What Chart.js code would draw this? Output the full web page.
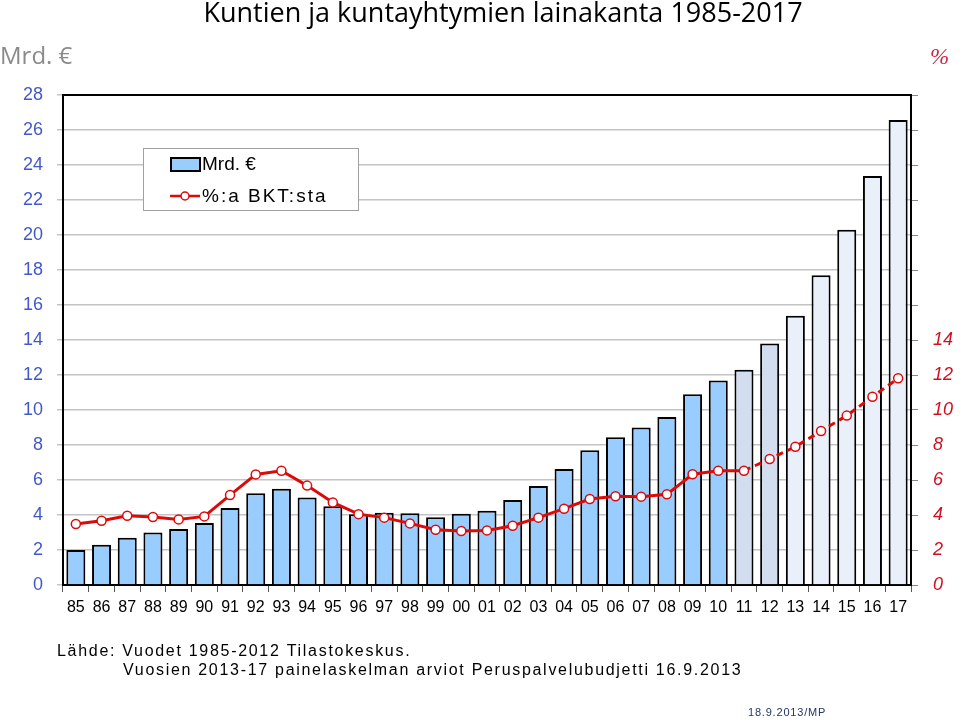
<!DOCTYPE html>
<html>
<head>
<meta charset="utf-8">
<script src="https://cdn.jsdelivr.net/npm/chart.js@4"></script>
<style>
  body { margin: 0; background: #fff; }
  #wrap { position: relative; width: 960px; height: 722px; }
</style>
</head>
<body>
<div id="wrap"><canvas id="chart"></canvas></div>
<script>
// vuodet (x-akseli)
var years = ['85', '86', '87', '88', '89', '90', '91', '92', '93', '94', '95', '96', '97', '98', '99',
    '00', '01', '02', '03', '04', '05', '06', '07', '08', '09', '10', '11', '12', '13', '14', '15', '16', '17'];
// lainakanta, Mrd. €
var debtBn = [2.0, 2.3, 2.7, 3.0, 3.2, 3.55, 4.4, 5.25, 5.5, 5.0, 4.5, 4.05, 4.13, 4.1, 3.87,
    4.07, 4.25, 4.86, 5.66, 6.63, 7.7, 8.45, 9.0, 9.6, 10.9, 11.68, 12.3, 13.8, 15.38, 17.7, 20.3, 23.37, 26.57];
// % BKT:sta
var gdpShare = [3.49, 3.67, 3.96, 3.89, 3.75, 3.92, 5.14, 6.32, 6.53, 5.68, 4.72, 4.05, 3.85, 3.52, 3.16,
    3.09, 3.12, 3.39, 3.85, 4.36, 4.91, 5.07, 5.05, 5.18, 6.33, 6.53, 6.53, 7.2, 7.9, 8.8, 9.68, 10.76, 11.81];
// toteutunut / ennakko / arvio
var dataStatus = ['a', 'a', 'a', 'a', 'a', 'a', 'a', 'a', 'a', 'a', 'a', 'a', 'a', 'a', 'a',
    'a', 'a', 'a', 'a', 'a', 'a', 'a', 'a', 'a', 'a', 'a', 'p', 'p', 'e', 'e', 'e', 'e', 'e'];
var leftTicks = [0, 2, 4, 6, 8, 10, 12, 14, 16, 18, 20, 22, 24, 26, 28];
var rightTicks = [0, 2, 4, 6, 8, 10, 12, 14];

var statusColor = { a: '#99ccff', p: '#d2deef', e: '#eaf0fa' };
var barColors = dataStatus.map(s => statusColor[s]);
var firstDashed = dataStatus.indexOf('p');

var LINE_RED = '#dd0a0a';

// kehys + tekstit
var decorPlugin = {
    id: 'decor',
    afterDatasetsDraw(chart) {
        const ctx = chart.ctx;
        const a = chart.chartArea;
        ctx.save();
        // yläreuna
        ctx.strokeStyle = '#000';
        ctx.lineWidth = 2;
        ctx.beginPath();
        ctx.moveTo(a.left, a.top);
        ctx.lineTo(a.right, a.top);
        ctx.stroke();

        // selite
        ctx.fillStyle = '#fff';
        ctx.fillRect(143, 148, 215, 62);
        ctx.strokeStyle = '#a0a0a0';
        ctx.lineWidth = 1;
        ctx.strokeRect(143.5, 148.5, 215, 62);

        const ds0 = chart.data.datasets[0];
        const ds1 = chart.data.datasets[1];
        ctx.fillStyle = statusColor.a;
        ctx.fillRect(171, 158, 29, 13);
        ctx.strokeStyle = '#000';
        ctx.lineWidth = 2;
        ctx.strokeRect(171, 158, 29, 13);

        ctx.strokeStyle = LINE_RED;
        ctx.lineWidth = 2.5;
        ctx.beginPath();
        ctx.moveTo(170, 196);
        ctx.lineTo(200, 196);
        ctx.stroke();
        ctx.beginPath();
        ctx.arc(185, 196, 4, 0, Math.PI * 2);
        ctx.fillStyle = '#fff';
        ctx.fill();
        ctx.lineWidth = 1.5;
        ctx.stroke();

        ctx.fillStyle = '#000';
        ctx.font = '19px "Liberation Sans"';
        ctx.textBaseline = 'middle';
        ctx.textAlign = 'left';
        ctx.fillText(ds0.label, 202, 165);
        ctx.letterSpacing = '2px';
        ctx.fillText(ds1.label, 202, 197);
        ctx.letterSpacing = '0px';

        // otsikko
        ctx.textAlign = 'center';
        ctx.font = '27px "Open Sans"';
        ctx.fillStyle = '#000';
        ctx.fillText('Kuntien ja kuntayhtymien lainakanta 1985-2017', 503, 14);

        ctx.textAlign = 'left';
        ctx.font = '24px "Open Sans"';
        ctx.fillStyle = '#8a8a8a';
        ctx.fillText('Mrd. €', 0, 57);
        ctx.font = 'italic 23px "Liberation Serif"';
        ctx.fillStyle = '#c8284a';
        ctx.fillText('%', 930, 58);

        // lähde
        ctx.font = '16px "Liberation Sans"';
        ctx.fillStyle = '#000';
        ctx.letterSpacing = '1.7px';
        ctx.fillText('Lähde: Vuodet 1985-2012 Tilastokeskus.', 57, 652);
        ctx.fillText('Vuosien 2013-17 painelaskelman arviot Peruspalvelubudjetti 16.9.2013', 123, 671);
        ctx.font = '11px "Liberation Sans"';
        ctx.fillStyle = '#1f3864';
        ctx.letterSpacing = '0.8px';
        ctx.fillText('18.9.2013/MP', 748, 713);
        ctx.letterSpacing = '0px';
        ctx.restore();
    }
};

var ctx = document.getElementById('chart').getContext('2d');
var myChart = new Chart(ctx, {
    data: {
        labels: years,
        datasets: [
            { // 0
                type: 'bar',
                label: 'Mrd. €',
                data: debtBn,
                yAxisID: 'y',
                backgroundColor: barColors,
                borderColor: '#000',
                borderWidth: 2,
                borderSkipped: 'bottom',
                barPercentage: 0.74,
                categoryPercentage: 1.0,
                order: 2,
            },
            { // 1
                type: 'line',
                label: '%:a BKT:sta',
                data: gdpShare,
                yAxisID: 'y2',
                borderColor: LINE_RED,
                borderWidth: 3,
                pointRadius: 4.5,
                pointBorderWidth: 1.5,
                pointBackgroundColor: '#fff',
                pointBorderColor: LINE_RED,
                tension: 0,
                order: 1,
                segment: {
                    borderDash: c => c.p0DataIndex >= firstDashed ? [7, 5] : undefined,
                },
            },
        ],
    },
    options: {
        responsive: true,
        maintainAspectRatio: false,
        animation: false,
        layout: { padding: { top: 95, left: 0, right: 0, bottom: 0 } },
        plugins: {
            legend: { display: false },
            tooltip: { enabled: false },
        },
        scales: {
            x: {
                offset: true,
                grid: {
                    offset: true,
                    drawOnChartArea: false,
                    tickLength: 7,
                    color: '#555',
                    lineWidth: 1,
                },
                border: { color: '#000', width: 2 },
                ticks: {
                    color: '#000',
                    padding: 6,
                    maxRotation: 0,
                    autoSkip: false,
                    font: { family: 'Liberation Sans', size: 16 },
                },
                afterFit: function(scale) { scale.height = 137; },
            },
            y: {
                position: 'left',
                min: 0,
                max: 28,
                afterBuildTicks: function(scale) { scale.ticks = leftTicks.map(v => ({ value: v })); },
                grid: {
                    color: '#c4c4c4',
                    lineWidth: 1.5,
                    tickLength: 6,
                },
                border: { color: '#000', width: 2 },
                ticks: {
                    color: '#4358c8',
                    padding: 14,
                    font: { family: 'Liberation Sans', size: 18 },
                },
                afterFit: function(scale) { scale.width = 63; },
            },
            y2: {
                position: 'right',
                min: 0,
                max: 28,
                afterBuildTicks: function(scale) { scale.ticks = leftTicks.map(v => ({ value: v })); },
                grid: {
                    drawOnChartArea: false,
                    color: '#888',
                    tickLength: 7,
                },
                border: { color: '#000', width: 2 },
                ticks: {
                    color: '#d01020',
                    padding: 15,
                    font: { family: 'Liberation Sans', size: 18, style: 'italic' },
                    callback: function(v) { return rightTicks.indexOf(v) >= 0 ? String(v) : ''; },
                },
                afterFit: function(scale) { scale.width = 49; },
            },
        },
    },
    plugins: [decorPlugin],
});
</script>
</body>
</html>
